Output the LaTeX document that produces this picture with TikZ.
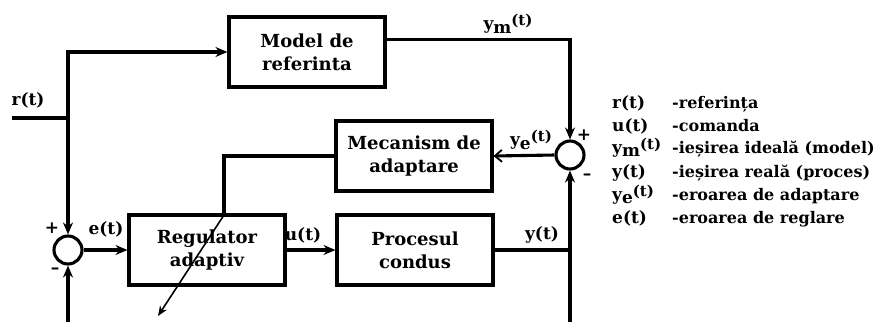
\documentclass[tikz,border=0pt]{standalone}
\usepackage{fontspec}
\setmainfont{DejaVu Serif}
\usetikzlibrary{arrows.meta,calc}

% signal names with a lowered subscript and a raised argument
\newcommand{\sig}[1]{y\raisebox{-0.2em}{#1}\raisebox{0.22em}{\fontsize{15bp}{16bp}\selectfont(t)}}

\begin{document}
\begin{tikzpicture}[x=1bp,y=-1bp,
  font=\bfseries\fontsize{17bp}{23bp}\selectfont,
  wire/.style={line width=3.1bp},
  sigarrow/.style={wire,-{Stealth[length=12bp,width=10bp]}},
  openarrow/.style={wire,-{Straight Barb[length=7bp,width=12bp,line width=1.8bp]}},
  block/.style={draw,line width=3.1bp,minimum width=156bp,minimum height=70bp,
    align=center,inner sep=0pt,font=\bfseries\fontsize{18bp}{23bp}\selectfont},
  sumpt/.style={draw,circle,line width=3.1bp,minimum size=28bp,inner sep=0pt},
  lbl/.style={inner sep=0pt},
  legsym/.style={anchor=base west,inner sep=0pt},
  legtxt/.style={anchor=base west,inner sep=0pt,font=\bfseries\fontsize{16bp}{20bp}\selectfont},
]
\useasboundingbox (0,0) rectangle (879,322);

% blocks
\node[block] (model) at (307,52) {Model de\\referinta};
\node[block] (mec)   at (414,156) {Mecanism de\\adaptare};
\node[block] (reg)   at (207,250) {Regulator\\adaptiv};
\node[block] (proc)  at (415,250) {Procesul\\condus};

% summing points
\node[sumpt] (sum1) at (68,250) {};
\node[sumpt] (sum2) at (570,155) {};

% branch points and free ends
\coordinate (rin)  at (12,118);
\coordinate (rj)   at (68,118);
\coordinate (yj)   at (570,250);
\coordinate (ybot) at (570,322);
\coordinate (fbot) at (68,322);
\coordinate (adj)  at (224,215);
\coordinate (tip)  at (158,316);
\coordinate (mout) at ($(model.north east)!0.33!(model.south east)$);

% connectors
\draw[wire] (rin) -- (rj);
\draw[sigarrow] (rj) |- (model.west);
\draw[sigarrow] (rj) -- (sum1.north);
\draw[sigarrow] (sum1.east) -- (reg.west);
\draw[sigarrow] (reg.east) -- (proc.west);
\draw[wire] (proc.east) -- (yj);
\draw[sigarrow] (ybot) -- (sum2.south);
\draw[sigarrow] (fbot) -- (sum1.south);
\draw[sigarrow] (mout) -| (sum2.north);
\draw[openarrow] (sum2.west) -- (mec.east);
\draw[wire] (mec.west) -| (adj);
\draw[line width=1.6bp,-{Stealth[length=10bp,width=8bp]}] (adj) -- (tip);

% signal labels
\node[lbl] (lr)  at (28,100) {r(t)};
\node[lbl] (le)  at (106,229) {e(t)};
\node[lbl] (lu)  at (303,235) {u(t)};
\node[lbl] (ly)  at (542,235) {y(t)};
\node[lbl] (lym) at (508,24) {\sig{m}};
\node[lbl] (lye) at (531,140) {\sig{e}};

% signs at the summing points
\node[lbl] (p1) at (52,228) {+};
\node[lbl] (m1) at (55,271) {–};
\node[lbl] (p2) at (584,135) {+};
\node[lbl] (m2) at (587,177) {–};

% legend
\node[legsym] (s1) at (612,108) {r(t)};
\node[legsym] (s2) at (612,131) {u(t)};
\node[legsym] (s3) at (612,153) {\sig{m}};
\node[legsym] (s4) at (612,177) {y(t)};
\node[legsym] (s5) at (612,200) {\sig{e}};
\node[legsym] (s6) at (612,223) {e(t)};
\node[legtxt] (d1) at (672,108) {-referința};
\node[legtxt] (d2) at (672,131) {-comanda};
\node[legtxt] (d3) at (672,153) {-ieșirea ideală (model)};
\node[legtxt] (d4) at (672,177) {-ieșirea reală (proces)};
\node[legtxt] (d5) at (672,200) {-eroarea de adaptare};
\node[legtxt] (d6) at (672,223) {-eroarea de reglare};
\end{tikzpicture}
\end{document}
